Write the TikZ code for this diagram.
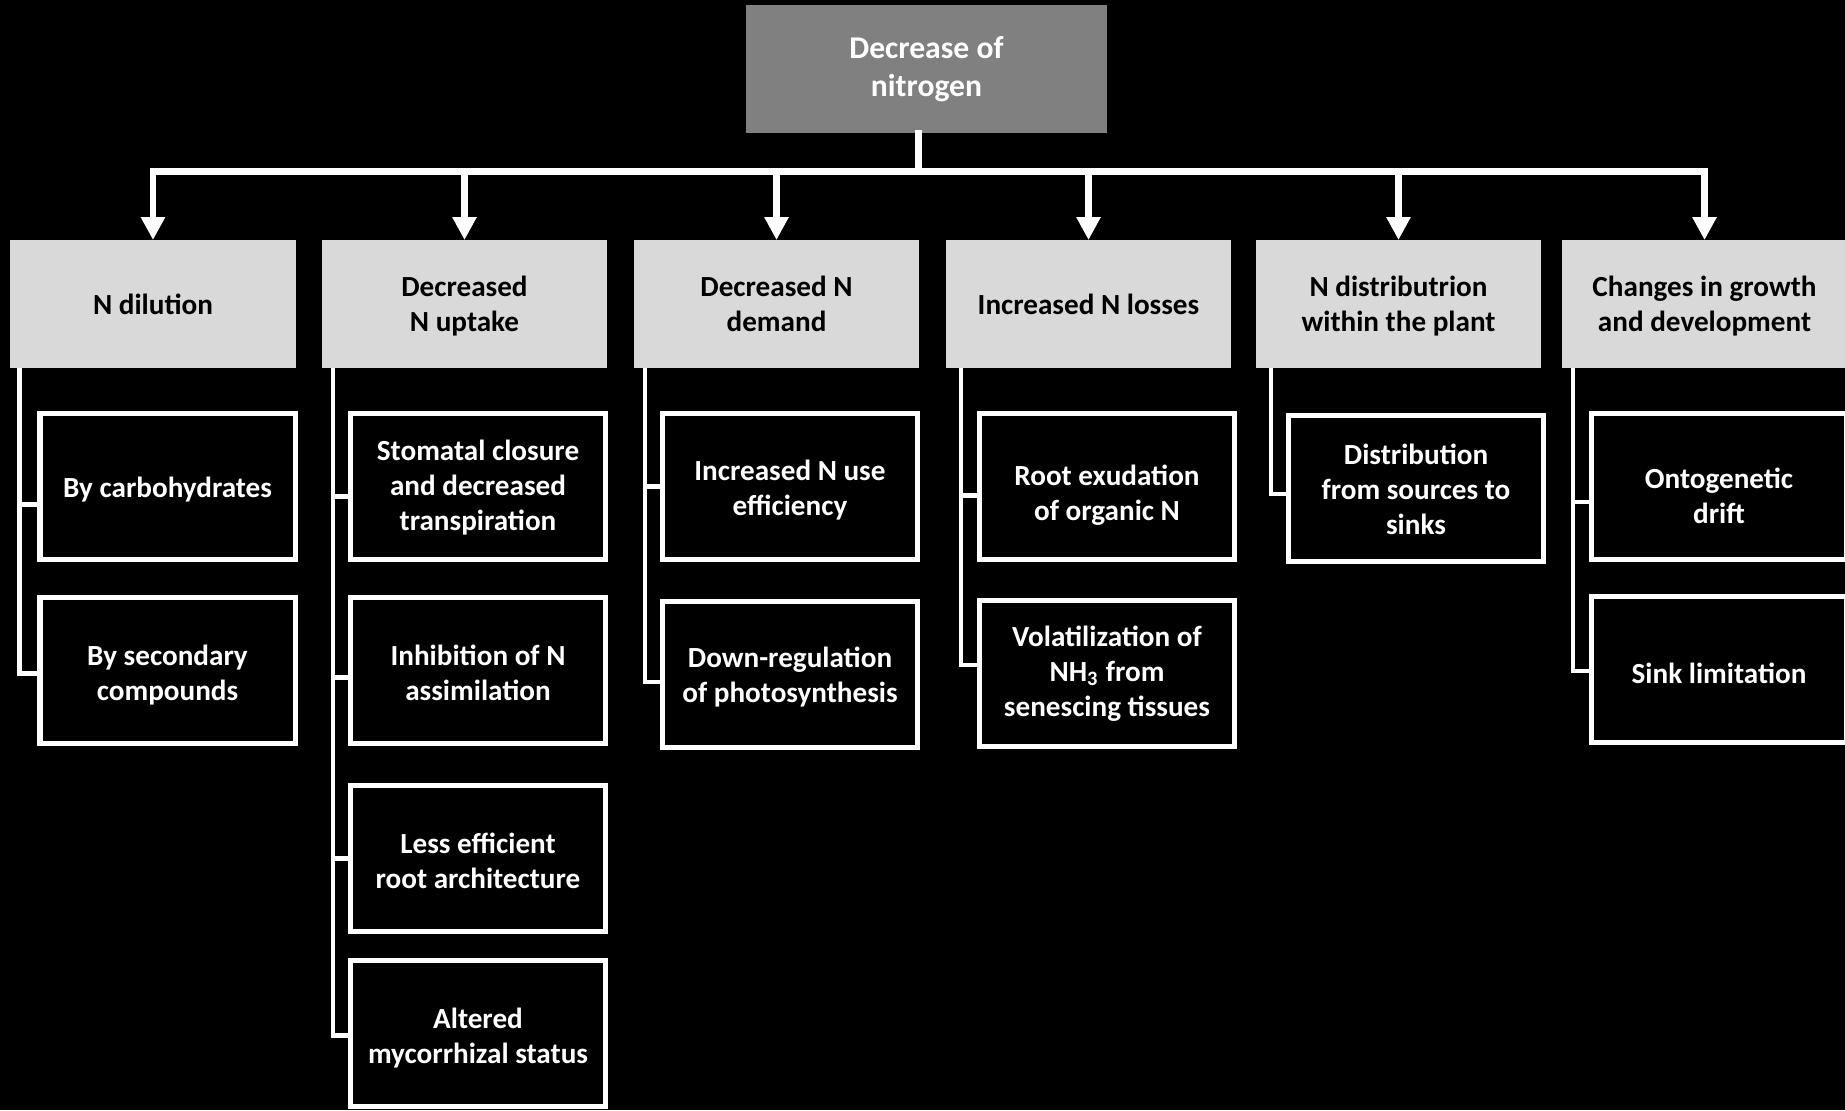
\documentclass[tikz,border=0pt]{standalone}
\usepackage{fontspec}
\setmainfont{Carlito}
\usetikzlibrary{positioning,arrows.meta}
\definecolor{topgray}{RGB}{128,128,128}
\definecolor{catgray}{RGB}{217,217,217}

\begin{document}
\begin{tikzpicture}[> = {Triangle[width=0.23cm,length=0.23cm]}]
    \tikzset{
      sunk/.style={execute at begin node={\rule{0pt}{#1}}},
      topbox/.style={
        fill=topgray, text=white, minimum width=3.61cm, minimum height=1.28cm,
        inner sep=0pt, outer sep=0pt, align=center, font=\bfseries\fontsize{9pt}{10.7pt}\selectfont,
      },
      catbox/.style={
        fill=catgray, minimum width=2.85cm, minimum height=1.28cm, text depth=0pt,
        inner sep=0pt, outer sep=0pt, align=center, font=\bfseries\fontsize{8.3pt}{10pt}\selectfont,
      },
      subbox/.style={
        draw=white, line width=0.05cm, fill=black, text=white,
        minimum width=2.55cm, minimum height=1.46cm, inner sep=0pt, outer sep=0pt,
        align=center, font=\bfseries\fontsize{8.3pt}{10pt}\selectfont,
      },
      barline/.style={white, line width=0.07cm, line cap=rect},
      sideline/.style={white, line width=0.048cm},
    }
    \useasboundingbox (0,0) rectangle (18.45,-11.10);
    \clip (0,0) rectangle (18.45,-11.10);
    \fill[black] (0,0) rectangle (18.45,-11.10);

    % top and categories
    \node (top) [topbox] at (9.265,-0.69) {Decrease of\\nitrogen};
    \coordinate (bar) at (9.265,-1.715);
    \foreach[count=\i] \x/\txt in {1.53/{N dilution}, 4.645/{Decreased\\N uptake},
        7.765/{Decreased N\\demand}, 10.885/{Increased N losses},
        13.985/{N distributrion\\within the plant}, 17.045/{Changes in growth\\and development}} {
      \node (cat\i) [catbox] at (\x,-3.04) {\txt};
    }

    % sub-boxes
    \node (cat1-sub1) [subbox, sunk=7.8pt, anchor=north west] at ([shift={(0.295,-0.455)}]cat1.south west) {By carbohydrates};
    \node (cat1-sub2) [subbox, sunk=18.5pt, below=0.38cm of cat1-sub1] {By secondary\\compounds};

    \node (cat2-sub1) [subbox, sunk=26.4pt, anchor=north west] at ([shift={(0.285,-0.455)}]cat2.south west) {Stomatal closure\\and decreased\\transpiration};
    \node (cat2-sub2) [subbox, sunk=17.1pt, below=0.38cm of cat2-sub1] {Inhibition of N\\assimilation};
    \node (cat2-sub3) [subbox, sunk=17.1pt, below=0.42cm of cat2-sub2] {Less efficient\\root architecture};
    \node (cat2-sub4) [subbox, sunk=18.5pt, below=0.29cm of cat2-sub3] {Altered\\mycorrhizal status};

    \node (cat3-sub1) [subbox, sunk=17.8pt, anchor=north west] at ([shift={(0.285,-0.455)}]cat3.south west) {Increased N use\\efficiency};
    \node (cat3-sub2) [subbox, sunk=17.1pt, below=0.42cm of cat3-sub1] {Down-regulation\\of photosynthesis};

    \node (cat4-sub1) [subbox, sunk=20.9pt, anchor=north west] at ([shift={(0.335,-0.455)}]cat4.south west) {Root exudation\\of organic N};
    \node (cat4-sub2) [subbox, below=0.41cm of cat4-sub1] {Volatilization of\\NH\textsubscript{3} from\\senescing tissues};

    \node (cat5-sub1) [subbox, sunk=26.4pt, anchor=north west] at ([shift={(0.325,-0.475)}]cat5.south west) {Distribution\\from sources to\\sinks};

    \node (cat6-sub1) [subbox, sunk=21.1pt, anchor=north west] at ([shift={(0.295,-0.455)}]cat6.south west) {Ontogenetic\\drift};
    \node (cat6-sub2) [subbox, sunk=7.8pt, below=0.37cm of cat6-sub1] {Sink limitation};

    % arrows
    \draw[barline] ([xshift=-0.08cm]top.south) -- ([xshift=-0.08cm]top.south |- bar);
    \draw[barline] (cat1.north |- bar) -- (cat6.north |- bar);
    \foreach \i in {1,...,6} {
      \draw[->, white, line width=0.067cm] (cat\i.north |- bar) -- (cat\i.north);
    }
    % side branches (x offset of the spine, y offset of the branch)
    \foreach \p/\c/\dx/\dy in {1/1/0.09/-0.18, 1/2/0.09/-0.03, 2/1/0.11/-0.1, 2/2/0.11/-0.07,
        2/3/0.11/0, 2/4/0.11/-0.02, 3/1/0.11/0, 3/2/0.11/-0.075, 4/1/0.15/-0.09, 4/2/0.15/0.085,
        5/1/0.15/-0.055, 6/1/0.11/-0.155, 6/2/0.11/-0.015} {
      \draw[sideline] ([xshift=\dx cm]cat\p.south west) |- ([yshift=\dy cm]cat\p-sub\c.west);
    }

  \end{tikzpicture}
\end{document}
